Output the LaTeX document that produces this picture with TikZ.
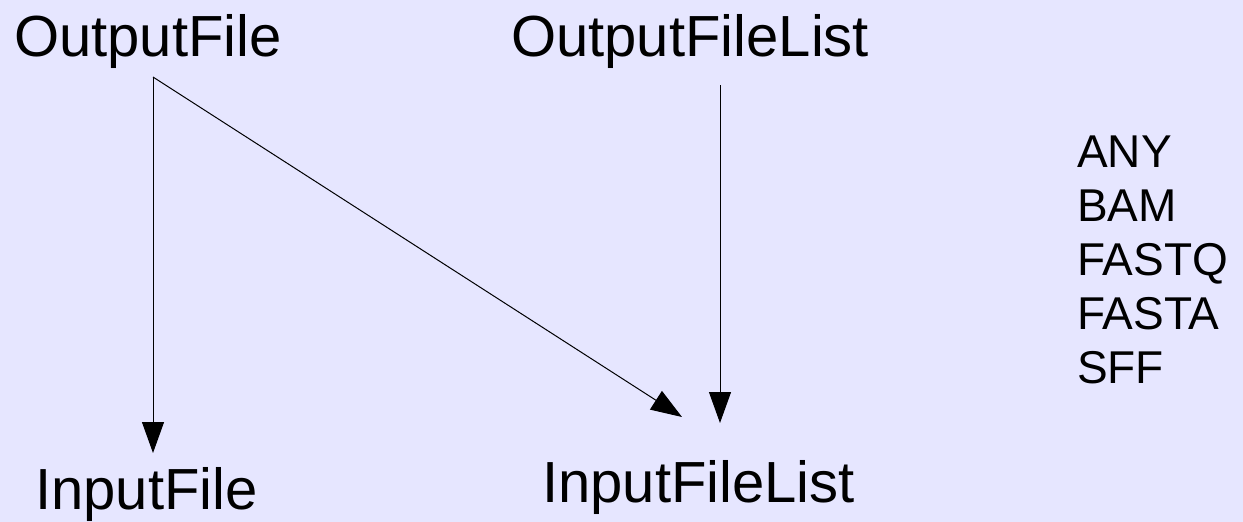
\documentclass[tikz,border=0pt]{standalone}
\usepackage{fontspec}
\setmainfont{Liberation Sans}
\usetikzlibrary{arrows.meta}
\definecolor{bg}{RGB}{230,230,255}
\begin{document}
\begin{tikzpicture}[x=1pt,y=-1pt,
  lbl/.style={anchor=base west, inner sep=0pt, font=\fontsize{58}{62}\selectfont},
  fmt/.style={anchor=base west, inner sep=0pt, font=\fontsize{46}{54}\selectfont},
  arr/.style={-{Triangle[length=31pt,width=22pt]}, line width=1pt, draw=black}]
\fill[bg] (0,0) rectangle (1243,522);
\useasboundingbox (0,0) rectangle (1243,522);
\node[lbl] (of)  at (14,56)   {OutputFile};
\node[lbl] (ofl) at (511,56)  {OutputFileList};
\node[lbl] (if)  at (35,509)  {InputFile};
\node[lbl] (ifl) at (542,502) {InputFileList};
\node[fmt] (any)   at (1077,167) {ANY};
\node[fmt] (bam)   at (1077,221) {BAM};
\node[fmt] (fastq) at (1077,275) {FASTQ};
\node[fmt] (fasta) at (1077,329) {FASTA};
\node[fmt] (sff)   at (1077,383) {SFF};
\coordinate (ofout)  at (153,77);
\coordinate (oflout) at (720,85);
\coordinate (ifin)   at (153,453);
\coordinate (iflinA) at (682,417);
\coordinate (iflinB) at (720,423);
\draw[arr] (ofout) -- (ifin);
\draw[arr] (ofout) -- (iflinA);
\draw[arr] (oflout) -- (iflinB);
\end{tikzpicture}
\end{document}
